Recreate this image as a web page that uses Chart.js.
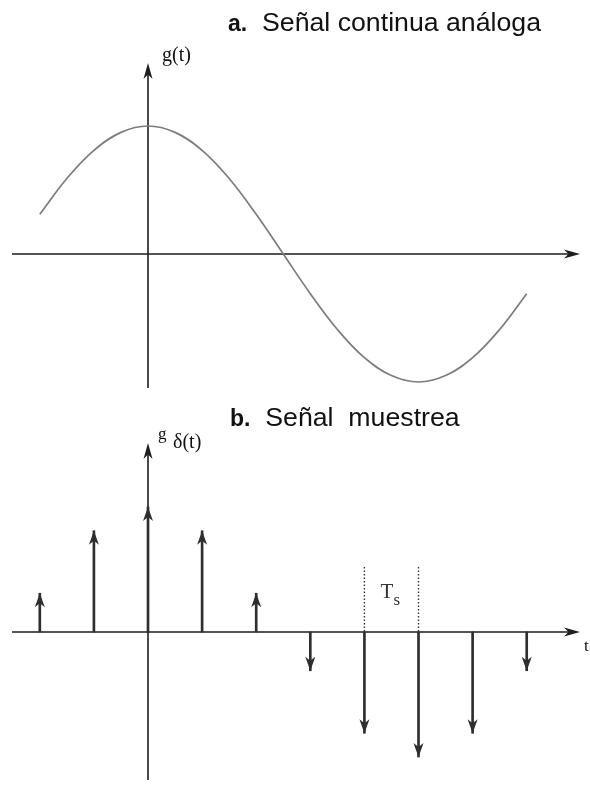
<!DOCTYPE html>
<html>
<head>
<meta charset="utf-8">
<script src="https://cdn.jsdelivr.net/npm/chart.js@4.4.1/dist/chart.umd.min.js"></script>
<style>
  html, body { margin: 0; padding: 0; background: #fff; }
  #wrap { position: relative; width: 590px; height: 785px; overflow: hidden; }
  canvas { position: absolute; left: 0; }
  #c1 { top: 0; }
  #c2 { top: 400px; }
  .ttl { position: absolute; font-family: "Liberation Sans", Arial, sans-serif; font-size: 26.7px;
         color: #111; white-space: pre; line-height: 1; }
  .ttl b { font-weight: bold; font-size: 23px; }
</style>
</head>
<body>
<div id="wrap">
  <canvas id="c1" width="590" height="400"></canvas>
  <canvas id="c2" width="590" height="385"></canvas>
  <div class="ttl" style="left:228px;top:9px"><b>a.</b>  Señal continua análoga</div>
  <div class="ttl" style="left:230px;top:404px"><b>b.</b>  Señal  muestrea</div>
</div>
<script>
// Continuous signal g(t), time in units of the sampling period Ts
const curveT = [-2, -1.5, -1, -0.5, 0, 0.5, 1, 1.5, 2, 2.5, 3, 3.5, 4, 4.5, 5, 5.5, 6, 6.5, 7];
const curveG = [0.31, 0.59, 0.81, 0.95, 1.00, 0.95, 0.81, 0.59, 0.31, 0.00, -0.31, -0.59, -0.81, -0.95, -1.00, -0.95, -0.81, -0.59, -0.31];

// Sampled signal g_delta(t): one impulse per sampling instant
const sampleT = [-2, -1, 0, 1, 2, 3, 4, 5, 6, 7];
const sampleG = [0.31, 0.81, 1.00, 0.81, 0.31, -0.31, -0.81, -1.00, -0.81, -0.31];

// The sampling period Ts is marked between these two instants
const periodMark = [4, 5];

const AXIS = '#1e1e1e';
const STEM = '#2e2e2e';
const SERIF = '"Liberation Serif", "Times New Roman", serif';

// Arrowhead with a notched base; tip at (x, y), pointing along (dx, dy)
function arrowHead(ctx, x, y, dx, dy, len, half, color) {
  const px = -dy, py = dx;
  ctx.save();
  ctx.fillStyle = color;
  ctx.beginPath();
  ctx.moveTo(x, y);
  ctx.lineTo(x - dx * len + px * half, y - dy * len + py * half);
  ctx.lineTo(x - dx * len * 0.72, y - dy * len * 0.72);
  ctx.lineTo(x - dx * len - px * half, y - dy * len - py * half);
  ctx.closePath();
  ctx.fill();
  ctx.restore();
}

// Cross-shaped axes through the origin, arrows on +t and +g
function drawAxes(chart) {
  const { ctx, chartArea: a, scales: { x, y } } = chart;
  const x0 = x.getPixelForValue(0);
  const y0 = y.getPixelForValue(0);
  ctx.save();
  ctx.strokeStyle = AXIS;
  ctx.lineWidth = 1.6;
  ctx.beginPath();
  ctx.moveTo(a.left, y0);
  ctx.lineTo(a.right - 8, y0);
  ctx.moveTo(x0, a.bottom);
  ctx.lineTo(x0, a.top + 8);
  ctx.stroke();
  ctx.restore();
  arrowHead(ctx, a.right, y0, 1, 0, 16, 4.5, AXIS);
  arrowHead(ctx, x0, a.top, 0, -1, 16, 4.5, AXIS);
  return { x0, y0 };
}

const topPlugin = {
  id: 'topAxes',
  beforeDatasetsDraw(chart) {
    const { x0 } = drawAxes(chart);
    const { ctx, chartArea: a } = chart;
    ctx.save();
    ctx.fillStyle = '#111';
    ctx.font = '20px ' + SERIF;
    ctx.textBaseline = 'alphabetic';
    ctx.fillText('g(t)', x0 + 14, a.top - 2);
    ctx.restore();
  }
};

const bottomPlugin = {
  id: 'sampledAxes',
  beforeDatasetsDraw(chart) {
    const { x0, y0 } = drawAxes(chart);
    const { ctx, chartArea: a, scales: { x, y } } = chart;
    // dotted guides marking one sampling period
    ctx.save();
    ctx.strokeStyle = '#333';
    ctx.lineWidth = 1.4;
    ctx.setLineDash([1.5, 2]);
    const yTop = y.getPixelForValue(0.52);
    periodMark.forEach(t => {
      const px = x.getPixelForValue(t);
      ctx.beginPath();
      ctx.moveTo(px, yTop);
      ctx.lineTo(px, y0);
      ctx.stroke();
    });
    ctx.setLineDash([]);
    // labels
    ctx.fillStyle = '#111';
    ctx.textBaseline = 'alphabetic';
    ctx.font = '17px ' + SERIF;
    ctx.fillText('g', x0 + 10, a.top - 4);
    ctx.font = '20px ' + SERIF;
    ctx.fillText('δ(t)', x0 + 25, a.top + 5);
    ctx.font = '17px ' + SERIF;
    ctx.fillText('t', a.right + 4, y0 + 19);
    const mid = (x.getPixelForValue(periodMark[0]) + x.getPixelForValue(periodMark[1])) / 2;
    ctx.fillStyle = '#333';
    ctx.font = '21px ' + SERIF;
    ctx.fillText('T', mid - 11, y0 - 34);
    ctx.font = '17px ' + SERIF;
    ctx.fillText('s', mid + 2, y0 - 27);
    ctx.restore();
  },
  afterDatasetsDraw(chart) {
    const meta = chart.getDatasetMeta(0);
    const ds = chart.data.datasets[0].data;
    meta.data.forEach((bar, i) => {
      const dir = ds[i].y >= 0 ? -1 : 1;
      arrowHead(chart.ctx, bar.x, bar.y, 0, dir, 14, 5, STEM);
    });
  }
};

// Shared time axis: t = 0 at x = 148 px, Ts = 54.1 px
const tMin = -2.514, tMax = 7.985;

new Chart(document.getElementById('c1'), {
  type: 'line',
  data: {
    datasets: [{
      data: curveT.map((t, i) => ({ x: t, y: curveG[i] })),
      borderColor: '#7c7c7c',
      borderWidth: 1.7,
      pointRadius: 0,
      tension: 0.4,
      fill: false
    }]
  },
  options: {
    responsive: false,
    animation: false,
    events: [],
    layout: { padding: { left: 12, right: 10, top: 63, bottom: 12 } },
    plugins: { legend: { display: false }, tooltip: { enabled: false } },
    scales: {
      x: { type: 'linear', min: tMin, max: tMax, display: false },
      y: { type: 'linear', min: -1.047, max: 1.492, display: false }
    }
  },
  plugins: [topPlugin]
});

new Chart(document.getElementById('c2'), {
  type: 'bar',
  data: {
    datasets: [{
      data: sampleT.map((t, i) => ({ x: t, y: sampleG[i] })),
      backgroundColor: STEM,
      barThickness: 2,
      borderWidth: 0
    }]
  },
  options: {
    responsive: false,
    animation: false,
    events: [],
    layout: { padding: { left: 12, right: 10, top: 43, bottom: 5 } },
    plugins: { legend: { display: false }, tooltip: { enabled: false } },
    scales: {
      x: { type: 'linear', min: tMin, max: tMax, display: false, offset: false },
      y: { type: 'linear', min: -1.184, max: 1.512, display: false }
    }
  },
  plugins: [bottomPlugin]
});
</script>
</body>
</html>
